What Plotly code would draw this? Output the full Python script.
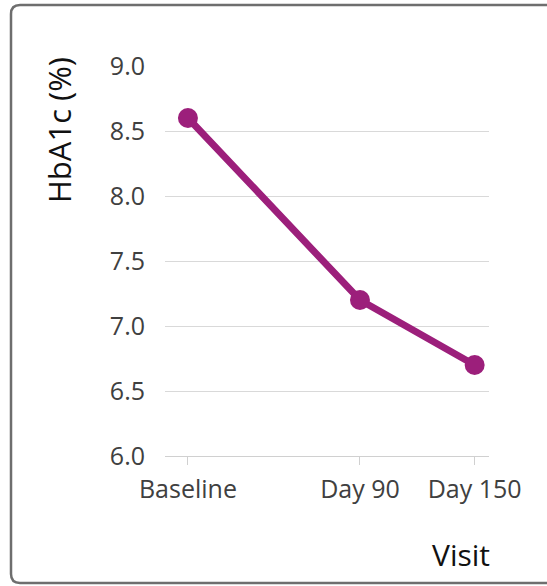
import plotly.graph_objects as go

# HbA1c by visit
visit_days = [0, 90, 150]
visit_labels = ["Baseline", "Day 90", "Day 150"]
hba1c = [8.6, 7.2, 6.7]
y_ticks = [6.0, 6.5, 7.0, 7.5, 8.0, 8.5, 9.0]

W, H = 547, 586
L, R, T, B = 165, 58, 66, 130
PW, PH = W - L - R, H - T - B

def px(x):
    return (x - L) / PW

def py(y):
    return (H - B - y) / PH

FONT = "Open Sans, Carlito, Calibri, sans-serif"
PURPLE = "#9c1f7b"

fig = go.Figure(
    go.Scatter(
        x=visit_days,
        y=hba1c,
        mode="lines+markers",
        line=dict(color=PURPLE, width=7),
        marker=dict(color=PURPLE, size=20),
        hoverinfo="skip",
    )
)

# rounded frame around the whole chart
x0, x1, y0, y1, r = 11, 565, 5, 583, 9
path = (
    f"M {px(x0 + r)} {py(y0)} L {px(x1)} {py(y0)} L {px(x1)} {py(y1)} "
    f"L {px(x0 + r)} {py(y1)} Q {px(x0)} {py(y1)} {px(x0)} {py(y1 - r)} "
    f"L {px(x0)} {py(y0 + r)} Q {px(x0)} {py(y0)} {px(x0 + r)} {py(y0)} Z"
)
fig.add_shape(type="path", path=path, xref="paper", yref="paper",
              line=dict(color="#6e6e6e", width=2.5), fillcolor="rgba(0,0,0,0)")

fig.add_annotation(text="HbA1c (%)", xref="paper", yref="paper",
                   x=px(59), y=py(130), xanchor="center", yanchor="middle",
                   textangle=-90, showarrow=False,
                   font=dict(family=FONT, size=31, color="#111111"))
fig.add_annotation(text="Visit", xref="paper", yref="paper",
                   x=px(461), y=py(554), xanchor="center", yanchor="middle",
                   showarrow=False,
                   font=dict(family=FONT, size=30, color="#111111"))

fig.update_layout(
    width=W, height=H,
    margin=dict(l=L, r=R, t=T, b=B),
    paper_bgcolor="white", plot_bgcolor="white",
    showlegend=False,
    font=dict(family=FONT, size=25, color="#404040"),
)
fig.update_xaxes(
    range=[-12, 157.5],
    tickvals=visit_days, ticktext=visit_labels,
    showgrid=False, zeroline=False,
    showline=True, linecolor="#d0d0d0", linewidth=1,
    ticks="outside", ticklen=8, tickcolor="#d0d0d0", tickwidth=1,
    ticklabelstandoff=3,
    tickfont=dict(family=FONT, size=25, color="#404040"),
)
fig.update_yaxes(
    range=[6, 9],
    tickvals=y_ticks, tickformat=".1f",
    showgrid=True, gridcolor="#d9d9d9", gridwidth=1,
    zeroline=False, showline=False,
    ticks="outside", ticklen=14, tickcolor="rgba(0,0,0,0)",
    tickfont=dict(family=FONT, size=25, color="#404040"),
)

fig.write_html("out.html")
